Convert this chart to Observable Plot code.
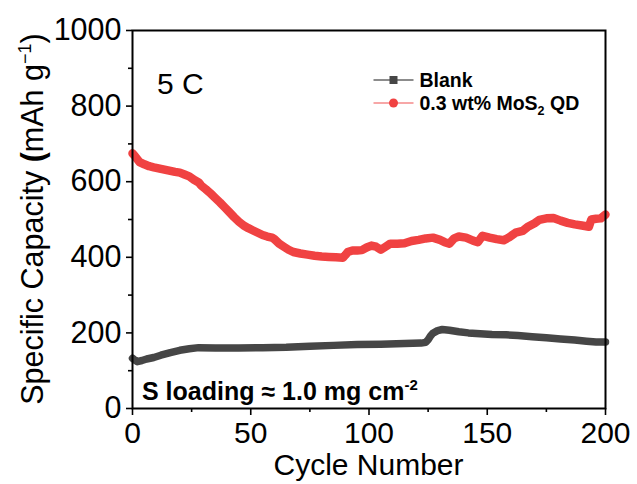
<!DOCTYPE html>
<html><head><meta charset="utf-8">
<script src="https://cdn.jsdelivr.net/npm/d3@7"></script>
<script src="https://cdn.jsdelivr.net/npm/@observablehq/plot@0.6"></script>
<style>body{margin:0;background:#fff} #chart{width:637px;height:484px}</style>
</head><body><div id="chart"></div>
<script>
// ---- data ----
const blankCycles = [0,1,2,4,6,9,12,16,20,24,28,35,45,55,65,75,85,95,105,115,122,124,125,126,127,129,131,134,138,142,147,152,158,163,169,175,181,187,192,196,200];
const blankValues = [133,128,124,127,131,135,141,148,154,158,161,160,160,161,162,165,167,169,170,172,173,175,182,192,199,206,209,207,203,200,198,196,195,193,190,187,184,181,178,176,176];
const mosCycles = [0,1,2,3,5,7,9,12,15,18,20,22,24,26,28,29,31,33,35,37,39,41,43,45,47,49,51,53,55,57,59,60,62,64,66,68,71,74,77,80,83,86,89,90,91,93,95,97,99,101,103,105,107,109,112,115,118,121,124,127,130,132,134,136,138,141,144,146,148,151,154,157,159,162,165,167,170,172,175,178,181,184,187,190,193,194,196,198,200];
const mosValues = [675,668,660,652,646,641,638,634,630,626,624,619,614,605,598,590,580,569,557,545,532,519,506,494,484,477,471,465,459,455,452,448,436,428,420,414,410,407,404,402,401,400,399,406,414,418,418,419,426,431,428,420,428,436,436,437,443,446,450,452,446,440,436,450,455,452,444,440,457,452,448,445,452,465,470,480,490,499,503,504,497,491,487,484,481,500,502,503,513];
const seriesNames = ["Blank", "0.3 wt% MoS", "2", " QD"];
const xTicks = [0, 50, 100, 150, 200];
const xMinor = [25, 75, 125, 175];
const yTicks = [0, 200, 400, 600, 800, 1000];
const yMinor = [100, 300, 500, 700, 900];
const colors = ["#464646", "#f04242"];
const legendLineColors = ["#666666", "#f58a8a"];

const blank = blankCycles.map((c, i) => ({cycle: c, cap: blankValues[i]}));
const mos = mosCycles.map((c, i) => ({cycle: c, cap: mosValues[i]}));

const font = "'Liberation Sans', Arial, Helvetica, sans-serif";
const fmt = d3.format("d");

const plot = Plot.plot({
  width: 637, height: 484,
  marginLeft: 132, marginRight: 32, marginTop: 30, marginBottom: 76,
  style: {fontFamily: font, fontSize: "30px", color: "#000", background: "#fff", overflow: "visible"},
  x: {domain: [0, 200]},
  y: {domain: [0, 1000]},
  marks: [
    Plot.axisX(xTicks, {tickSize: 7, tickPadding: 6, strokeWidth: 1.6, label: null, fontSize: 30, tickFormat: fmt}),
    Plot.axisX(xMinor, {tickSize: 4, tickFormat: () => "", strokeWidth: 1.6, label: null}),
    Plot.axisY(yTicks, {tickSize: 6, tickPadding: 5, strokeWidth: 1.6, label: null, fontSize: 30.5, tickFormat: fmt}),
    Plot.axisY(yMinor, {tickSize: 4, tickFormat: () => "", strokeWidth: 1.6, label: null}),
    Plot.line(blank, {x: "cycle", y: "cap", stroke: colors[0], strokeWidth: 7.5, strokeLinejoin: "round", strokeLinecap: "round"}),
    Plot.line(mos, {x: "cycle", y: "cap", stroke: colors[1], strokeWidth: 8.5, strokeLinejoin: "round", strokeLinecap: "round"}),
    Plot.frame({stroke: "#000", strokeWidth: 2})
  ]
});
document.getElementById("chart").appendChild(plot);

// ---- annotations, axis titles, legend ----
const sx = plot.scale("x"), sy = plot.scale("y");
const L = sx.range[0], R = sx.range[1], B = sy.range[0], T = sy.range[1];
const svg = d3.select(plot);
const g = svg.append("g").attr("font-family", font).attr("fill", "#000").attr("text-anchor", "start");

// x title
g.append("text").attr("x", (L + R) / 2).attr("y", B + 67).attr("text-anchor", "middle")
  .attr("font-size", 30).text("Cycle Number");

// y title
const yt = g.append("text").attr("transform", `translate(${L - 89},${(T + B) / 2}) rotate(-90)`)
  .attr("text-anchor", "middle").attr("font-size", 30.5);
yt.append("tspan").text("Specific Capacity ");
yt.append("tspan").attr("font-weight", "bold").text("(");
yt.append("tspan").text("mAh g");
yt.append("tspan").attr("font-size", 18).attr("dy", -12).text("\u22121");
yt.append("tspan").attr("dy", 12).text(")");

// 5 C
g.append("text").attr("x", L + 25).attr("y", T + 64).attr("font-size", 30).text("5 C");

// S loading
const sl = g.append("text").attr("x", L + 10).attr("y", B - 8).attr("font-size", 25).attr("font-weight", "bold");
sl.append("tspan").text("S loading \u2248 1.0 mg cm");
sl.append("tspan").attr("font-size", 15).attr("dy", -10).text("-2");

// legend
const lg = g.append("g");
const ly = [T + 50, T + 73];
const lx0 = sx.apply(100) + 5, lx1 = lx0 + 40, lmid = (lx0 + lx1) / 2;
lg.append("line").attr("x1", lx0).attr("x2", lx1).attr("y1", ly[0]).attr("y2", ly[0]).attr("stroke", legendLineColors[0]).attr("stroke-width", 1.5);
lg.append("rect").attr("x", lmid - 4).attr("y", ly[0] - 4).attr("width", 8).attr("height", 8).attr("fill", colors[0]);
lg.append("text").attr("x", lx1 + 6).attr("y", ly[0] + 7).attr("font-size", 19.5).attr("font-weight", "bold").text(seriesNames[0]);
lg.append("line").attr("x1", lx0).attr("x2", lx1).attr("y1", ly[1]).attr("y2", ly[1]).attr("stroke", legendLineColors[1]).attr("stroke-width", 1.5);
lg.append("circle").attr("cx", lmid).attr("cy", ly[1]).attr("r", 4.5).attr("fill", colors[1]);
const t2 = lg.append("text").attr("x", lx1 + 6).attr("y", ly[1] + 7).attr("font-size", 19.5).attr("font-weight", "bold");
t2.append("tspan").text(seriesNames[1]);
t2.append("tspan").attr("font-size", 12.5).attr("dy", 5).text(seriesNames[2]);
t2.append("tspan").attr("dy", -5).text(seriesNames[3]);
</script>
</body></html>
